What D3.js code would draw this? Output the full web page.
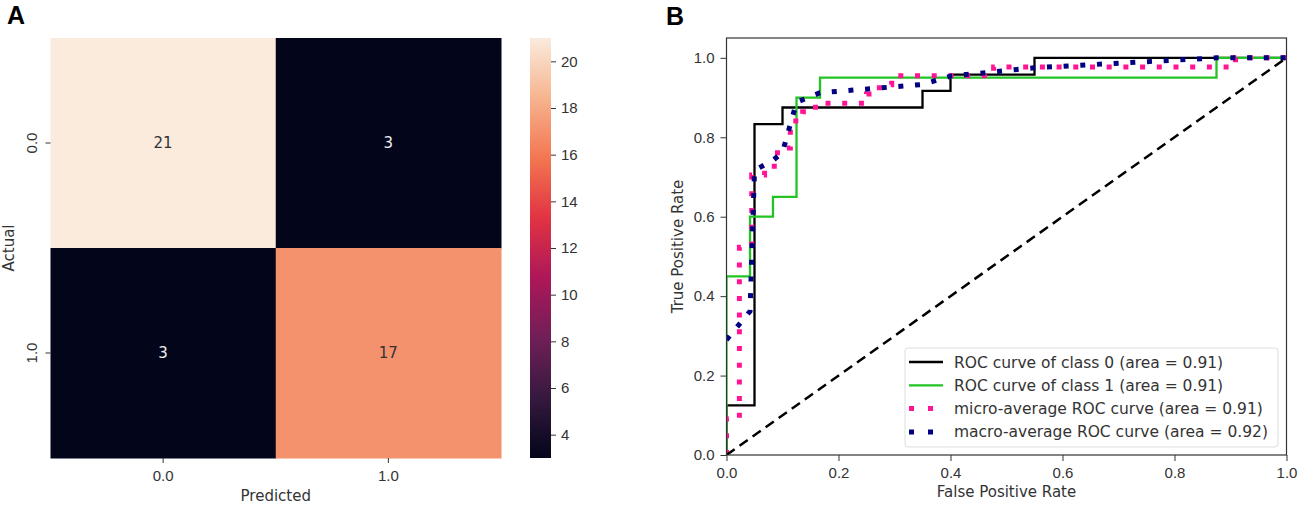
<!DOCTYPE html>
<html>
<head>
<meta charset="utf-8">
<script src="https://cdn.jsdelivr.net/npm/d3@7"></script>
<style>
  body { margin: 0; background: #fff; }
  svg { display: block; font-family: "DejaVu Sans", sans-serif; }
  .tick text { fill: #333; font-size: 15px; }
  .tick line { stroke: #333; }
</style>
</head>
<body>
<div id="chart"></div>
<script>
const width = 1299;
const height = 505;

// confusion matrix
const cmLabels = ['0.0', '1.0'];
const cmValues = [[21, 3], [3, 17]];
const cbTicks = [4, 6, 8, 10, 12, 14, 16, 18, 20];

// rocket colormap stops
const rocketStops = [0, 1 / 7, 2 / 7, 3 / 7, 4 / 7, 5 / 7, 6 / 7, 1];
const rocketColors = ['#03051a', '#35193e', '#701f57', '#ad1759', '#e13342', '#f37651', '#f6b48f', '#faebdd'];

// ROC curves
const class0Fpr = [0, 0, 0.05, 0.05, 0.1, 0.1, 0.35, 0.35, 0.4, 0.4, 0.55, 0.55, 1];
const class0Tpr = [0, 0.125, 0.125, 0.833, 0.833, 0.875, 0.875, 0.917, 0.917, 0.958, 0.958, 1, 1];

const class1Fpr = [0, 0, 0.042, 0.042, 0.083, 0.083, 0.125, 0.125, 0.167, 0.167, 0.875, 0.875, 1];
const class1Tpr = [0, 0.45, 0.45, 0.6, 0.6, 0.65, 0.65, 0.9, 0.9, 0.95, 0.95, 1, 1];

const microFpr = [0, 0, 0.023, 0.023, 0.045, 0.045, 0.068, 0.068, 0.091, 0.091, 0.114, 0.114, 0.136, 0.136,
  0.159, 0.159, 0.25, 0.25, 0.273, 0.273, 0.295, 0.295, 0.477, 0.477, 0.909, 0.909, 1];
const microTpr = [0, 0.091, 0.091, 0.523, 0.523, 0.705, 0.705, 0.727, 0.727, 0.773, 0.773, 0.841, 0.841, 0.864,
  0.864, 0.886, 0.886, 0.909, 0.909, 0.932, 0.932, 0.955, 0.955, 0.977, 0.977, 1, 1];

const macroFpr = [0, 0.042, 0.05, 0.083, 0.1, 0.125, 0.167, 0.35, 0.4, 0.55, 0.875, 1];
const macroTpr = [0.29, 0.362, 0.717, 0.742, 0.762, 0.888, 0.912, 0.933, 0.954, 0.975, 1, 1];

const rocTicks = [0, 0.2, 0.4, 0.6, 0.8, 1.0];

const curves = [
  { label: 'ROC curve of class 0 (area = 0.91)', fpr: class0Fpr, tpr: class0Tpr, color: '#000000', dotted: false },
  { label: 'ROC curve of class 1 (area = 0.91)', fpr: class1Fpr, tpr: class1Tpr, color: '#22c322', dotted: false },
  { label: 'micro-average ROC curve (area = 0.91)', fpr: microFpr, tpr: microTpr, color: '#ff1493', dotted: true },
  { label: 'macro-average ROC curve (area = 0.92)', fpr: macroFpr, tpr: macroTpr, color: '#000080', dotted: true },
];

const svg = d3.select('#chart')
  .append('svg')
  .attr('width', width)
  .attr('height', height);

// ---------- panel A: heatmap ----------
const hm = { left: 50.5, right: 501, top: 38, bottom: 458 };

const xBand = d3.scaleBand().domain(cmLabels).range([hm.left, hm.right]);
const yBand = d3.scaleBand().domain(cmLabels).range([hm.top, hm.bottom]);

const color = d3.scaleLinear()
  .domain(rocketStops.map(s => 3 + s * 18))
  .range(rocketColors)
  .interpolate(d3.interpolateRgb);

const cells = [];
cmValues.forEach((row, i) => row.forEach((v, j) => cells.push({ row: cmLabels[i], col: cmLabels[j], value: v })));

svg.append('g')
  .selectAll('rect')
  .data(cells)
  .join('rect')
  .attr('x', d => xBand(d.col))
  .attr('y', d => yBand(d.row))
  .attr('width', xBand.bandwidth() + 0.5)
  .attr('height', yBand.bandwidth() + 0.5)
  .attr('fill', d => color(d.value));

svg.append('g')
  .selectAll('text')
  .data(cells)
  .join('text')
  .attr('x', d => xBand(d.col) + xBand.bandwidth() / 2)
  .attr('y', d => yBand(d.row) + yBand.bandwidth() / 2)
  .attr('dy', '0.36em')
  .attr('text-anchor', 'middle')
  .attr('font-size', 15)
  .attr('fill', d => d.value > 12 ? '#333' : '#eee')
  .text(d => d.value);

const hmX = svg.append('g')
  .attr('transform', `translate(0, ${hm.bottom})`)
  .call(d3.axisBottom(xBand).tickSize(5).tickPadding(7));
hmX.select('.domain').remove();

const hmY = svg.append('g')
  .attr('transform', `translate(${hm.left}, 0)`)
  .call(d3.axisLeft(yBand).tickSize(5));
hmY.select('.domain').remove();
hmY.selectAll('.tick text')
  .attr('transform', 'rotate(-90)')
  .attr('x', 0)
  .attr('y', -19)
  .attr('dy', '0.36em')
  .attr('text-anchor', 'middle');

svg.append('text')
  .attr('x', (hm.left + hm.right) / 2)
  .attr('y', 496)
  .attr('dy', '0.36em')
  .attr('text-anchor', 'middle')
  .attr('font-size', 15)
  .attr('fill', '#333')
  .text('Predicted');

svg.append('text')
  .attr('transform', `translate(9, ${(hm.top + hm.bottom) / 2}) rotate(-90)`)
  .attr('dy', '0.36em')
  .attr('text-anchor', 'middle')
  .attr('font-size', 15)
  .attr('fill', '#333')
  .text('Actual');

// colorbar
const cb = { left: 530, width: 21 };
const cbScale = d3.scaleLinear().domain([3, 21]).range([hm.bottom, hm.top]);

const grad = svg.append('defs')
  .append('linearGradient')
  .attr('id', 'rocket')
  .attr('x1', 0).attr('y1', 1).attr('x2', 0).attr('y2', 0);
grad.selectAll('stop')
  .data(rocketStops)
  .join('stop')
  .attr('offset', (d, i) => d)
  .attr('stop-color', (d, i) => rocketColors[i]);

svg.append('rect')
  .attr('x', cb.left)
  .attr('y', hm.top)
  .attr('width', cb.width)
  .attr('height', hm.bottom - hm.top)
  .attr('fill', 'url(#rocket)');

const cbAxis = svg.append('g')
  .attr('transform', `translate(${cb.left + cb.width}, 0)`)
  .call(d3.axisRight(cbScale).tickValues(cbTicks).tickSize(5).tickPadding(5));
cbAxis.select('.domain').remove();

// panel labels
svg.append('text').attr('x', 7).attr('y', 24)
  .attr('font-family', '"Liberation Sans", Arial, sans-serif')
  .attr('font-weight', 'bold').attr('font-size', 25).text('A');
svg.append('text').attr('x', 666).attr('y', 25)
  .attr('font-family', '"Liberation Sans", Arial, sans-serif')
  .attr('font-weight', 'bold').attr('font-size', 25).text('B');

// ---------- panel B: ROC ----------
const area = { left: 726.5, right: 1286.5, top: 38, bottom: 455 };

const xScale = d3.scaleLinear().domain([0, 1]).range([area.left, area.right]);
const yScale = d3.scaleLinear().domain([0, 1.05]).range([area.bottom, area.top]);

svg.append('clipPath')
  .attr('id', 'roc-clip')
  .append('rect')
  .attr('x', area.left)
  .attr('y', area.top)
  .attr('width', area.right - area.left)
  .attr('height', area.bottom - area.top);

const plot = svg.append('g').attr('clip-path', 'url(#roc-clip)');

const line = d3.line()
  .x(d => xScale(d[0]))
  .y(d => yScale(d[1]));

curves.forEach(c => {
  const pts = c.fpr.map((f, i) => [f, c.tpr[i]]);
  plot.append('path')
    .datum(pts)
    .attr('d', line)
    .attr('fill', 'none')
    .attr('stroke', c.color)
    .attr('stroke-width', c.dotted ? 5 : 2.3)
    .attr('stroke-dasharray', c.dotted ? '5,11.7' : null)
    .attr('stroke-linejoin', 'miter');
});

// chance line
plot.append('path')
  .datum([[0, 0], [1, 1]])
  .attr('d', line)
  .attr('fill', 'none')
  .attr('stroke', '#000')
  .attr('stroke-width', 2.5)
  .attr('stroke-dasharray', '10,6');

const xAxis = svg.append('g')
  .attr('transform', `translate(0, ${area.bottom})`)
  .call(d3.axisBottom(xScale).tickValues(rocTicks).tickFormat(d3.format('.1f')).tickSize(6).tickPadding(6));
xAxis.select('.domain').remove();

const yAxis = svg.append('g')
  .attr('transform', `translate(${area.left}, 0)`)
  .call(d3.axisLeft(yScale).tickValues(rocTicks).tickFormat(d3.format('.1f')).tickSize(6).tickPadding(6));
yAxis.select('.domain').remove();

svg.append('rect')
  .attr('x', area.left)
  .attr('y', area.top)
  .attr('width', area.right - area.left)
  .attr('height', area.bottom - area.top)
  .attr('fill', 'none')
  .attr('stroke', '#333')
  .attr('stroke-width', 1.2);

svg.append('text')
  .attr('x', (area.left + area.right) / 2)
  .attr('y', 492)
  .attr('dy', '0.36em')
  .attr('text-anchor', 'middle')
  .attr('font-size', 15)
  .attr('fill', '#333')
  .text('False Positive Rate');

svg.append('text')
  .attr('transform', `translate(678, ${(area.top + area.bottom) / 2}) rotate(-90)`)
  .attr('dy', '0.36em')
  .attr('text-anchor', 'middle')
  .attr('font-size', 15)
  .attr('fill', '#333')
  .text('True Positive Rate');

// legend
const legend = svg.append('g').attr('transform', 'translate(905, 348)');
legend.append('rect')
  .attr('width', 373)
  .attr('height', 99)
  .attr('rx', 3)
  .attr('fill', 'rgba(255,255,255,0.85)')
  .attr('stroke', '#ddd');

const items = legend.selectAll('g.item')
  .data(curves)
  .join('g')
  .attr('class', 'item')
  .attr('transform', (d, i) => `translate(0, ${14 + i * 23.3})`);

items.append('line')
  .attr('x1', 4).attr('x2', 38)
  .attr('stroke', d => d.color)
  .attr('stroke-width', d => d.dotted ? 5 : 2.3)
  .attr('stroke-dasharray', d => d.dotted ? '5,14' : null);

items.append('text')
  .attr('x', 49)
  .attr('dy', '0.36em')
  .attr('font-size', 15.5)
  .attr('fill', '#333')
  .text(d => d.label);
</script>
</body>
</html>
